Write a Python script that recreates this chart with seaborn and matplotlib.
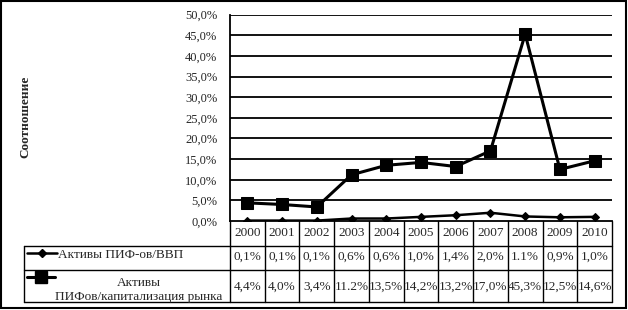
import numpy as np
import pandas as pd
import matplotlib
matplotlib.use("Agg")
import matplotlib.pyplot as plt
import seaborn as sns
from matplotlib.lines import Line2D
from matplotlib.patches import Rectangle
from matplotlib.transforms import blended_transform_factory

years = ['2000', '2001', '2002', '2003', '2004', '2005', '2006', '2007', '2008', '2009', '2010']
gdp_ratio = [0.1, 0.1, 0.1, 0.6, 0.6, 1.0, 1.4, 2.0, 1.1, 0.9, 1.0]
cap_ratio = [4.4, 4.0, 3.4, 11.2, 13.5, 14.2, 13.2, 17.0, 45.3, 12.5, 14.6]
gdp_labels = ['0,1%', '0,1%', '0,1%', '0,6%', '0,6%', '1,0%', '1,4%', '2,0%', '1.1%', '0,9%', '1,0%']
cap_labels = ['4,4%', '4,0%', '3,4%', '11.2%', '13,5%', '14,2%', '13,2%', '17,0%', '45,3%', '12,5%', '14,6%']
ytick_vals = [0, 5, 10, 15, 20, 25, 30, 35, 40, 45, 50]
ytick_labels = ['0,0%', '5,0%', '10,0%', '15,0%', '20,0%', '25,0%', '30,0%', '35,0%', '40,0%', '45,0%', '50,0%']
series1_name = 'Активы ПИФ-ов/ВВП'
series2_name_l1 = 'Активы'
series2_name_l2 = 'ПИФов/капитализация рынка'
ylabel = 'Соотношение'

sns.set_style("white")
plt.rcParams['font.family'] = ['Liberation Serif', 'DejaVu Serif']

W, H = 628, 310
fig = plt.figure(figsize=(W / 100, H / 100), dpi=100)

def fx(px):
    return px / W

def fy(py):
    return 1 - py / H

x0, x1 = 230, 612
y_top, y_bot = 14.7, 221
ax = fig.add_axes([fx(x0), fy(y_bot), fx(x1) - fx(x0), fy(y_top) - fy(y_bot)])

df = pd.DataFrame({'pos': np.arange(len(years)), 'gdp': gdp_ratio, 'cap': cap_ratio})

sns.lineplot(data=df, x='pos', y='cap', ax=ax, color='black', lw=2.2,
             marker='s', markersize=8.5, markeredgecolor='black', zorder=4)
sns.lineplot(data=df, x='pos', y='gdp', ax=ax, color='black', lw=1.8,
             marker='D', markersize=4.5, markeredgecolor='black', zorder=4)

ax.set_xlim(-0.5, len(years) - 0.5)
ax.set_ylim(0, 50)
ax.set_yticks(ytick_vals)
ax.set_yticklabels(ytick_labels, fontsize=9)
ax.set_xticks([])
ax.set_xlabel('')
ax.set_ylabel('')
ax.tick_params(axis='y', length=0, pad=9)
for v in ytick_vals[1:]:
    ax.axhline(v, color='black', lw=1.3, zorder=1)
for s in ['top', 'right']:
    ax.spines[s].set_visible(False)
for s in ['left', 'bottom']:
    ax.spines[s].set_color('black')
    ax.spines[s].set_linewidth(1.3)

fig.text(fx(25), fy(117), ylabel, rotation=90, ha='center', va='center',
         fontsize=9.5, fontweight='bold')

# data table
tr = blended_transform_factory(ax.transData, fig.transFigure)
lw_t = 1.0
for py in [246, 270, 302]:
    fig.add_artist(Line2D([fx(24), fx(x1)], [fy(py), fy(py)], color='black', lw=lw_t))
fig.add_artist(Line2D([fx(24), fx(24)], [fy(246), fy(302)], color='black', lw=lw_t))
fig.add_artist(Line2D([fx(x0), fx(x0)], [fy(221), fy(302)], color='black', lw=lw_t))
for i in range(len(years)):
    fig.add_artist(Line2D([i + 0.5, i + 0.5], [fy(221), fy(302)], color='black',
                          lw=lw_t, transform=tr))

tfs = 9.5
for i, yr in enumerate(years):
    fig.text(i, fy(233), yr, transform=tr, ha='center', va='center', fontsize=9.5)
    fig.text(i, fy(257), gdp_labels[i], transform=tr, ha='center', va='center', fontsize=tfs)
    fig.text(i, fy(287), cap_labels[i], transform=tr, ha='center', va='center', fontsize=tfs)

# legend keys
fig.add_artist(Line2D([fx(27), fx(57)], [fy(253), fy(253)], color='black', lw=1.8))
fig.add_artist(Line2D([fx(42)], [fy(253)], color='black', marker='D', markersize=4.5))
fig.add_artist(Line2D([fx(27), fx(55)], [fy(277), fy(277)], color='black', lw=2.2))
fig.add_artist(Line2D([fx(41)], [fy(277)], color='black', marker='s', markersize=8.5))

fig.text(fx(58), fy(255), series1_name, ha='left', va='center', fontsize=9.5)
fig.text(fx(139), fy(283), series2_name_l1, ha='center', va='center', fontsize=9.5)
fig.text(fx(139), fy(297), series2_name_l2, ha='center', va='center', fontsize=9.5)

# outer border
fig.add_artist(Rectangle((fx(1), fy(308)), fx(625), fy(1) - fy(308), fill=False,
                         edgecolor='black', lw=1.5, transform=fig.transFigure))

fig.savefig('out.png', dpi=100)
